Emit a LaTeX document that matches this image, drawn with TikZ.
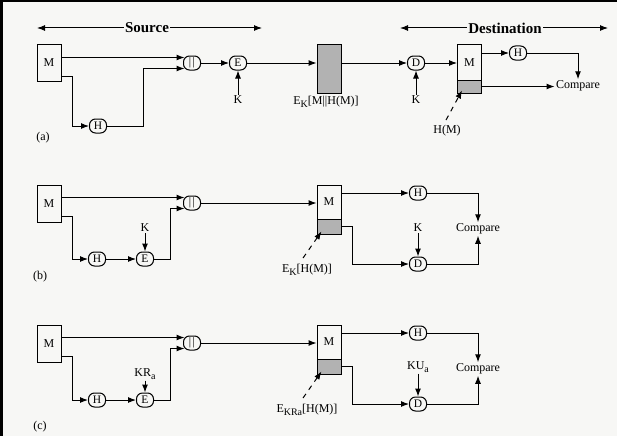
\documentclass[tikz,border=0pt]{standalone}
\usepackage{fontspec}
\setmainfont{Liberation Serif}
\usepackage{tikz}
\usetikzlibrary{arrows.meta}
\usetikzlibrary{calc}
\definecolor{paper}{RGB}{247,247,245}
\definecolor{shade}{RGB}{178,178,178}
\newcommand{\lowsub}[1]{\raisebox{-2.5pt}{\fontsize{10}{10}\selectfont #1}}
\tikzset{
	ar/.style={-{Latex[length=8pt,width=6pt]}},
	lead/.style={dash pattern=on 5pt off 5pt,-{Latex[length=8pt,width=6pt]}},
	blk/.style={draw, rounded corners=6pt, minimum width=17pt, minimum height=14pt, inner sep=0pt, font=\fontsize{11.5}{12}\selectfont},
	msgbox/.style={draw, minimum width=24pt, inner sep=0pt, font=\fontsize{12}{13}\selectfont},
	lbl/.style={inner sep=1pt, font=\fontsize{12}{13}\selectfont},
	head/.style={inner sep=1pt, font=\fontsize{15}{17}\selectfont\bfseries},
}

\begin{document}
\begin{tikzpicture}[x=1pt, y=-1pt, line width=1pt]
				\fill[paper](0,0) rectangle (617,436);
				\fill[black](0,0) rectangle (3,436);
				\fill[black](0,0) rectangle (617,2);
				\useasboundingbox (0,0) rectangle (617,436);
				%
				\node[head](src) at (147,28) {Source};
				\node[head](dst) at (505,28) {Destination};
				\coordinate (srcL) at (37,28);
				\coordinate (srcR) at (262,28);
				\coordinate (dstL) at (400,28);
				\coordinate (dstR) at (608,28);
				\draw[ar](src.west) -- (srcL);
				\draw[ar](src.east) -- (srcR);
				\draw[ar](dst.west) -- (dstL);
				\draw[ar](dst.east) -- (dstR);
				%
				% (a)
				\node[msgbox, minimum height=36pt](Ma) at (49,63) {M};
				\node[blk](cat1) at (192,63) {|\kern1.5pt|};
				\node[blk](Ha) at (98,126) {H};
				\node[blk](Ea) at (238,63) {E};
				\node[lbl](Ka) at (238,100) {K};
				\node[msgbox, minimum height=48pt, fill=shade](ca) at (329,69) {};
				\node[lbl](caL) at (326,102) {E\lowsub{K}[M||H(M)]};
				\node[blk](Da) at (416,63) {D};
				\node[lbl](Kda) at (416,100) {K};
				\node[msgbox, minimum height=35pt](Mda) at (469.5,62.5) {M};
				\node[msgbox, minimum height=13pt, fill=shade](Sa) at (469.5,86.5) {};
				\node[blk](Hda) at (518,53) {H};
				\node[lbl](Cpa) at (578,86) {Compare};
				\node[lbl](HMa) at (447,131) {H(M)};
				\node[lbl](pa) at (43,138) {(a)};
				%
				\coordinate (ia1) at ($(cat1.west)+(1.5,-5.5)$);
				\coordinate (ia2) at ($(cat1.west)+(1.5,5.5)$);
				\draw[ar](Ma.east |- ia1) -- (ia1);
				\draw[ar](Ma.east |- 0,76) -- (72,76) |- (Ha.west);
				\draw[ar](Ha.east) -- (143,126) |- (ia2);
				\draw[ar](cat1.east) -- (Ea.west);
				\draw[ar](Ka.north) -- (Ea.south);
				\draw[ar](Ea.east) -- (ca.west |- Ea);
				\draw[ar](ca.east |- Da) -- (Da.west);
				\draw[ar](Kda.north) -- (Da.south);
				\draw[ar](Da.east) -- (Mda.west |- Da);
				\draw[ar](Mda.east |- Hda) -- (Hda.west);
				\draw[ar](Hda.east) -| (Cpa.north);
				\draw[ar](Sa.east) -- (Cpa.west |- Sa);
				\draw[lead]($(HMa.north)+(-1,-4)$) -- ($(Sa.south west)+(5,-3)$);
				%
				% (b)
				\node[msgbox, minimum height=37pt](Mb) at (49,203.5) {M};
				\node[blk](cat2) at (192,203) {|\kern1.5pt|};
				\node[blk](Hb) at (97,259) {H};
				\node[blk](Eb) at (145,259) {E};
				\node[lbl](Kb) at (145,228) {K};
				\node[msgbox, minimum height=34pt](Mdb) at (329,202) {M};
				\node[msgbox, minimum height=15pt, fill=shade](Sb) at (329,226.5) {};
				\node[lbl](Lb) at (307,270) {E\lowsub{K}[H(M)]};
				\node[blk](Hdb) at (418,193) {H};
				\node[blk](Ddb) at (418,264) {D};
				\node[lbl](Kdb) at (418,228) {K};
				\node[lbl](Cpb) at (478,229) {Compare};
				\node[lbl](pb) at (40,277) {(b)};
				%
				\coordinate (ib1) at ($(cat2.west)+(1.5,-5.5)$);
				\coordinate (ib2) at ($(cat2.west)+(1.5,5.5)$);
				\draw[ar](Mb.east |- ib1) -- (ib1);
				\draw[ar](Mb.east |- 0,216) -- (72,216) |- (Hb.west);
				\draw[ar](Hb.east) -- (Eb.west);
				\draw[ar](Kb.south) -- (Eb.north);
				\draw[ar](Eb.east) -- (170,259) |- (ib2);
				\draw[ar](cat2.east) -- (Mdb.west |- cat2);
				\draw[ar](Mdb.east |- Hdb) -- (Hdb.west);
				\draw[ar](Hdb.east) -| (Cpb.north);
				\draw[ar](Sb.east) -- (352,226.5) |- (Ddb.west);
				\draw[ar](Kdb.south) -- (Ddb.north);
				\draw[ar](Ddb.east) -| (Cpb.south);
				\draw[lead]($(Lb.north)+(-4,-5)$) -- ($(Sb.south west)+(5,-3)$);
				%
				% (c)
				\node[msgbox, minimum height=37pt](Mc) at (49,343.5) {M};
				\node[blk](cat3) at (192,343) {|\kern1.5pt|};
				\node[blk](Hc) at (97,400) {H};
				\node[blk](Ec) at (145,400) {E};
				\node[lbl](Kc) at (145,374) {KR\lowsub{a}};
				\node[msgbox, minimum height=34pt](Mdc) at (329,342) {M};
				\node[msgbox, minimum height=15pt, fill=shade](Sc) at (329,366.5) {};
				\node[lbl](Lc) at (307,410) {E\lowsub{KRa}[H(M)]};
				\node[blk](Hdc) at (418,333) {H};
				\node[blk](Ddc) at (418,404) {D};
				\node[lbl](Kdc) at (418,367) {KU\lowsub{a}};
				\node[lbl](Cpc) at (478,369) {Compare};
				\node[lbl](pc) at (40,427) {(c)};
				%
				\coordinate (ic1) at ($(cat3.west)+(1.5,-5.5)$);
				\coordinate (ic2) at ($(cat3.west)+(1.5,5.5)$);
				\draw[ar](Mc.east |- ic1) -- (ic1);
				\draw[ar](Mc.east |- 0,356) -- (72,356) |- (Hc.west);
				\draw[ar](Hc.east) -- (Ec.west);
				\draw[ar](Kc.south) -- (Ec.north);
				\draw[ar](Ec.east) -- (170,400) |- (ic2);
				\draw[ar](cat3.east) -- (Mdc.west |- cat3);
				\draw[ar](Mdc.east |- Hdc) -- (Hdc.west);
				\draw[ar](Hdc.east) -| (Cpc.north);
				\draw[ar](Sc.east) -- (352,366.5) |- (Ddc.west);
				\draw[ar](Kdc.south) -- (Ddc.north);
				\draw[ar](Ddc.east) -| (Cpc.south);
				\draw[lead]($(Lc.north)+(-4,-5)$) -- ($(Sc.south west)+(5,-3)$);
\end{tikzpicture}
\end{document}
